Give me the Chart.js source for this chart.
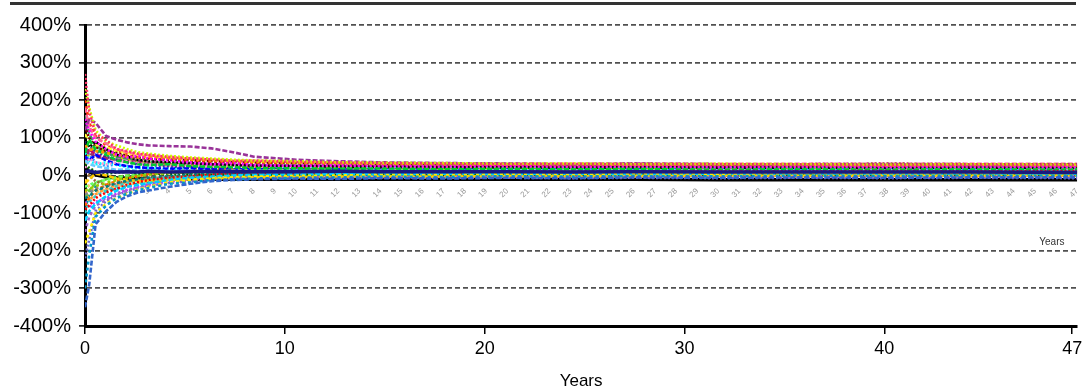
<!DOCTYPE html>
<html>
<head>
<meta charset="utf-8">
<title>Simulated paths</title>
<script src="https://cdn.jsdelivr.net/npm/chart.js"></script>
<style>
  body { margin: 0; background: #fff; }
  #wrap { position: relative; width: 1084px; height: 392px; }
  #topRule { position: absolute; left: 10px; top: 2px; width: 1066px; border-top: 3px solid #333; }
</style>
</head>
<body>
<div id="wrap">
  <div id="topRule"></div>
  <canvas id="pathChart" width="1084" height="392"></canvas>
</div>

<script>
// years at which each path is sampled
const years = [0, 0.2, 0.5, 1, 1.5, 2, 2.5, 3, 4, 5, 6, 7, 8, 10, 12, 14, 17, 20, 23, 26, 30, 34, 38, 42, 47];

// outer axis: tick values and the labels printed under them
const xTickValues = [0, 10, 20, 30, 40, 49.4];
const xTickLabels = ['0', '10', '20', '30', '40', '47'];
const yTicks = [-400, -300, -200, -100, 0, 100, 200, 300, 400];

// the two bold lines
const navyPath  = [10, 12, 8, 11, 9, 10, 9, 11, 9, 10, 11, 10, 10, 10, 11, 10, 10, 10, 9, 10, 9, 9, 9, 9, 8];
const blackPath = [20, 10, 2, -4, -6, -7, -8, -8, -9, -9, -10, -10, -10, -10, -10, -10, -10, -10, -10, -10, -11, -11, -11, -11, -11];

// simulated return paths (%)
const paths = [
  [270, 170, 110, 95, 70, 65, 58, 55, 48, 45, 42, 38, 40, 36, 34, 33, 31, 30, 31, 29, 30, 29, 28, 29, 28],
  [-350, -290, -130, -95, -70, -55, -45, -40, -30, -22, -15, -12, -10, -8, -9, -7, -8, -6, -7, -5, -6, -5, -6, -5, -5],
  [-300, -210, -110, -80, -60, -48, -40, -33, -22, -18, -12, -10, -8, -6, -5, -3, -4, -2, -3, -1, -2, 0, -1, 0, 0],
  [230, 180, 120, 90, 80, 70, 62, 58, 52, 48, 45, 42, 40, 38, 35, 34, 33, 31, 32, 30, 31, 30, 29, 30, 29],
  [120, 150, 140, 105, 95, 88, 83, 80, 78, 77, 72, 62, 50, 42, 38, 35, 33, 32, 30, 31, 30, 29, 30, 28, 29],
  [-180, -150, -100, -75, -60, -48, -38, -30, -18, -12, -8, -5, -3, -1, 0, 2, 1, 3, 2, 4, 3, 4, 3, 4, 4],
  [150, 120, 90, 70, 55, 48, 52, 45, 40, 35, 30, 33, 28, 26, 27, 25, 24, 25, 23, 24, 22, 23, 22, 23, 22],
  [-120, -95, -75, -55, -40, -30, -25, -20, -12, -6, -3, 0, 2, 3, 4, 3, 5, 4, 5, 4, 5, 6, 5, 6, 5],
  [80, 70, 65, 60, 55, 50, 48, 50, 45, 42, 40, 38, 36, 34, 32, 31, 30, 29, 30, 28, 29, 28, 27, 28, 27],
  [-90, -80, -60, -45, -35, -25, -18, -12, -6, -2, 2, 5, 6, 8, 9, 10, 9, 11, 10, 11, 12, 11, 12, 11, 12],
  [60, 95, 70, 55, 40, 35, 30, 28, 30, 25, 23, 22, 20, 19, 18, 19, 17, 18, 17, 18, 17, 18, 17, 17, 17],
  [-60, -55, -40, -30, -20, -14, -10, -6, -2, 2, 4, 6, 7, 8, 9, 8, 10, 9, 10, 9, 10, 10, 9, 10, 10],
  [100, 75, 90, 70, 55, 50, 42, 38, 35, 33, 30, 28, 26, 25, 24, 23, 22, 22, 21, 22, 21, 21, 20, 21, 20],
  [40, 30, 25, 20, 15, 16, 12, 14, 12, 13, 11, 12, 12, 13, 12, 13, 12, 14, 13, 13, 14, 13, 14, 13, 14],
  [-40, -35, -28, -20, -12, -6, -2, 2, 6, 9, 11, 13, 14, 15, 16, 15, 16, 17, 16, 17, 16, 17, 16, 17, 17],
  [130, 100, 75, 65, 60, 52, 48, 44, 42, 40, 38, 36, 35, 33, 32, 31, 31, 30, 30, 31, 30, 30, 31, 30, 30],
  [-20, -10, 5, 0, -8, -12, -15, -14, -12, -10, -8, -6, -5, -4, -3, -2, -3, -1, -2, -1, 0, -1, 0, -1, 0],
  [-150, -110, -80, -65, -50, -40, -32, -25, -18, -14, -10, -8, -7, -6, -6, -5, -5, -4, -4, -4, -3, -4, -3, -3, -3],
  [20, 45, 35, 30, 35, 38, 32, 30, 26, 28, 25, 26, 24, 23, 24, 23, 22, 23, 22, 23, 22, 22, 23, 22, 22],
  [50, 40, 55, 40, 30, 25, 22, 20, 18, 19, 17, 16, 17, 15, 16, 15, 15, 16, 15, 15, 16, 15, 15, 15, 15],
  [-80, -60, -40, -25, -15, -8, -2, 4, 10, 14, 17, 19, 20, 21, 22, 23, 22, 23, 24, 23, 24, 23, 24, 24, 24],
  [30, 20, 10, 5, 8, 10, 6, 5, 4, 3, 2, 3, 1, 2, 1, 2, 1, 2, 1, 2, 1, 2, 1, 2, 1],
  [70, 60, 50, 45, 42, 38, 40, 35, 33, 30, 29, 27, 26, 24, 25, 24, 23, 24, 23, 24, 23, 23, 24, 23, 23],
  [-100, -70, -55, -40, -28, -20, -15, -10, -5, -2, 0, 2, 3, 4, 5, 6, 6, 7, 6, 7, 7, 7, 8, 7, 7],
  [10, 0, -15, -25, -20, -15, -10, -8, -5, -3, -2, -1, 0, 1, 2, 3, 3, 4, 3, 4, 4, 5, 4, 5, 5],
  [180, 130, 100, 85, 70, 62, 57, 54, 50, 46, 43, 40, 38, 36, 34, 33, 32, 32, 31, 32, 31, 31, 31, 31, 31],
  [-50, -45, -35, -28, -22, -16, -12, -8, -4, -1, 2, 4, 5, 7, 8, 9, 10, 10, 11, 11, 12, 12, 12, 12, 12],
  [90, 75, 65, 50, 42, 35, 30, 28, 24, 22, 20, 19, 18, 17, 16, 16, 15, 15, 14, 15, 14, 14, 14, 14, 14],
  [110, 90, 80, 75, 65, 60, 55, 52, 48, 44, 42, 40, 37, 35, 33, 32, 31, 30, 30, 29, 30, 29, 29, 29, 29],
  [-30, -25, -18, -12, -6, -2, 2, 5, 8, 10, 12, 13, 14, 15, 16, 16, 17, 17, 18, 17, 18, 18, 18, 18, 18],
  [-70, -85, -70, -60, -48, -38, -30, -24, -16, -10, -7, -5, -4, -3, -2, -3, -2, -1, -2, -1, -1, -2, -1, -2, -1],
  [160, 110, 80, 60, 50, 45, 40, 36, 32, 30, 28, 27, 27, 26, 26, 25, 26, 25, 26, 25, 26, 25, 26, 25, 26],
  [-40, -65, -50, -35, -25, -18, -12, -8, -4, 0, 2, 4, 5, 6, 6, 7, 6, 7, 8, 7, 8, 8, 7, 8, 8],
  [60, 40, 30, 35, 28, 22, 20, 21, 19, 20, 19, 20, 19, 20, 20, 21, 20, 21, 20, 21, 20, 20, 21, 20, 20],
  [40, 70, 55, 48, 42, 36, 33, 30, 27, 25, 24, 22, 21, 20, 19, 19, 18, 19, 18, 19, 18, 18, 19, 18, 18],
  [-10, -30, -45, -38, -30, -24, -20, -16, -10, -6, -3, -1, 0, 1, 1, 2, 1, 2, 2, 2, 3, 2, 3, 2, 3],
  [80, 55, 35, 25, 30, 26, 22, 18, 15, 16, 14, 15, 13, 14, 13, 12, 13, 12, 13, 12, 12, 13, 12, 12, 12],
  [-60, -40, -20, -10, -4, 0, 3, 6, 8, 7, 9, 8, 10, 9, 10, 9, 10, 11, 10, 11, 10, 11, 10, 11, 10],
  [200, 140, 105, 80, 66, 58, 50, 46, 41, 38, 36, 34, 32, 30, 29, 28, 28, 27, 27, 27, 26, 27, 26, 26, 26],
  [-220, -170, -95, -68, -52, -42, -34, -27, -20, -15, -11, -9, -8, -7, -7, -6, -6, -6, -7, -6, -7, -6, -7, -6, -7],
  [30, 60, 80, 62, 50, 44, 38, 34, 30, 29, 27, 26, 25, 24, 23, 22, 22, 21, 21, 21, 20, 21, 20, 21, 20],
  [-90, -50, -30, -42, -35, -28, -22, -18, -10, -5, -2, 0, 1, 3, 4, 4, 5, 5, 6, 5, 6, 6, 6, 6, 6]
];

const pathColors = [
  '#FF3366', '#3366CC', '#0099CC', '#CCFF00', '#993399', '#FFEE00', '#FF00FF', '#00CCFF',
  '#FF9900', '#FF0000', '#00CC33', '#008080', '#000000', '#66CCFF', '#99CC00', '#800000',
  '#FFCC00', '#9966CC', '#FF99CC', '#0000FF', '#FF6600', '#006600', '#993366', '#33CCCC',
  '#996633', '#FF6699', '#888888', '#333399', '#FFFF33', '#66FF66', '#CC33FF', '#339966',
  '#FF9933', '#00FFFF', '#CC0066', '#FFCC66', '#3399FF', '#66CC33', '#FF3300', '#6666CC',
  '#CCCC00', '#009999'
];

const toPoints = vals => vals.map((v, i) => ({ x: years[i], y: v }));

// first dataset is painted last (on top), so the black line goes at the end
const datasets = [
  { data: toPoints(navyPath), borderColor: '#1a1a80', borderWidth: 3.5 }
];
paths.forEach((p, i) => {
  datasets.push({
    data: toPoints(p),
    borderColor: pathColors[i % pathColors.length],
    borderWidth: 2.6,
    borderDash: i % 3 === 0 ? [2, 2] : (i % 3 === 1 ? [5, 2] : [3, 3])
  });
});
datasets.push({ data: toPoints(blackPath), borderColor: '#000000', borderWidth: 3.5 });
datasets.forEach(d => { d.xAxisID = 'x2'; d.pointRadius = 0; d.fill = false; });

// small "Years" caption belonging to the inner axis
const innerCaption = {
  id: 'innerCaption',
  afterDraw(chart) {
    const ctx = chart.ctx;
    const xs = chart.scales.x2, ys = chart.scales.y;
    ctx.save();
    ctx.font = '10px "Liberation Sans", Arial, sans-serif';
    ctx.fillStyle = '#333';
    ctx.textAlign = 'center';
    ctx.textBaseline = 'middle';
    ctx.fillText('Years', xs.getPixelForValue(45.8), ys.getPixelForValue(-178));
    ctx.restore();
  }
};

const font = size => ({ family: '"Liberation Sans", Arial, sans-serif', size: size });

new Chart(document.getElementById('pathChart').getContext('2d'), {
  type: 'line',
  data: { datasets: datasets },
  plugins: [innerCaption],
  options: {
    responsive: false,
    animation: false,
    layout: { padding: { left: 0, right: 6, top: 25, bottom: 0 } },
    plugins: { legend: { display: false }, tooltip: { enabled: false } },
    scales: {
      x: {
        type: 'linear',
        min: 0,
        max: 49.65,
        afterBuildTicks: axis => { axis.ticks = xTickValues.map(v => ({ value: v })); },
        afterFit: axis => { axis.height = 66; axis.paddingLeft = 0; axis.paddingRight = 0; },
        border: { display: true, color: '#000', width: 3 },
        grid: { drawOnChartArea: false, color: '#000', lineWidth: 1.5, tickLength: 8 },
        ticks: {
          color: '#000',
          maxRotation: 0,
          padding: 4,
          font: font(18),
          callback: (v, i) => xTickLabels[i]
        },
        title: {
          display: true,
          text: 'Years',
          color: '#000',
          padding: { top: 8, bottom: 0 },
          font: font(17)
        }
      },
      x2: {
        type: 'linear',
        min: 0,
        max: 47,
        position: { y: -8 },
        border: { display: false },
        grid: { display: false },
        ticks: {
          stepSize: 1,
          autoSkip: false,
          minRotation: 45,
          maxRotation: 45,
          padding: 0,
          color: '#999999',
          font: font(8),
          callback: v => (v >= 1 ? v : '')
        }
      },
      y: {
        min: -400,
        max: 400,
        afterBuildTicks: axis => { axis.ticks = yTicks.map(v => ({ value: v })); },
        afterFit: axis => { axis.width = 85; },
        border: { display: true, color: '#000', width: 3, dash: [5, 3] },
        grid: {
          color: '#505050',
          lineWidth: 1.8,
          tickLength: 6,
          tickColor: '#000',
          tickWidth: 1.5,
          tickBorderDash: []
        },
        ticks: {
          color: '#000',
          padding: 8,
          font: font(20),
          callback: v => v + '%'
        }
      }
    }
  }
});
</script>
</body>
</html>
